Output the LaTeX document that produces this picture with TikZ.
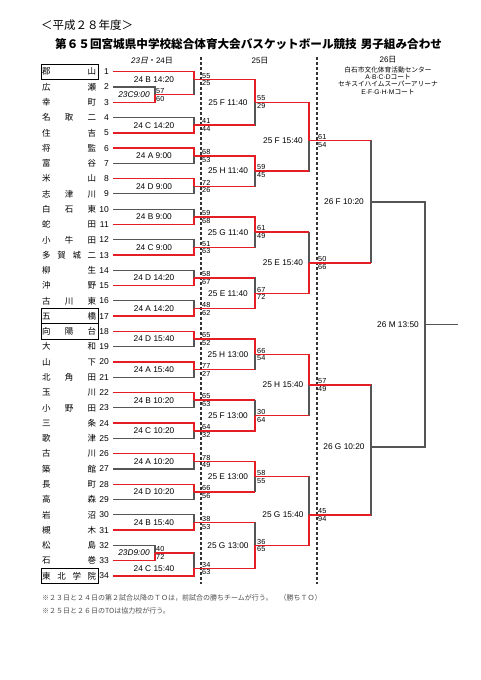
\documentclass[tikz,border=0pt]{standalone}
\usepackage{fontspec}
\setmainfont{Liberation Sans}
\newfontfamily\jp{Noto Sans CJK JP}
\newfontfamily\jpsl[FakeSlant=0.2]{Noto Sans CJK JP}
\definecolor{bred}{RGB}{228,30,36}
\definecolor{bgray}{RGB}{85,85,85}

\begin{document}
\begin{tikzpicture}[x=1pt,y=-1pt,
  win/.style={draw=bred,line width=1.5pt},
  lose/.style={draw=bgray,line width=1.1pt},
  tname/.style={anchor=west,inner sep=0pt,font=\jp\fontsize{8.5}{9}\selectfont},
  tnum/.style={anchor=east,inner sep=0pt,font=\fontsize{8.5}{9}\selectfont},
  gamelbl/.style={inner sep=0pt,font=\fontsize{8.3}{9}\selectfont},
  score/.style={anchor=west,inner sep=0pt,font=\fontsize{7.3}{8}\selectfont},
  shi/.style={score,yshift=3.8pt},
  slo/.style={score,yshift=-4pt},
  namebox/.style={draw=black,line width=0.8pt},
  daysep/.style={draw=black!80,line width=1.2pt,dash pattern=on 3pt off 2pt},
  hdr/.style={inner sep=0pt,font=\fontsize{8}{9}\selectfont},
  venue/.style={inner sep=0pt,font=\fontsize{6.7}{7}\selectfont}]
\useasboundingbox (0,0) rectangle (481,680);

% titles
\node[anchor=west,inner sep=0pt,font=\jp\fontsize{11.5}{12}\selectfont] (year) at (41,25) {＜平成２８年度＞};
\node[anchor=west,inner sep=0pt,font=\jp\bfseries\fontsize{11.6}{12}\selectfont] (title) at (55,44.5) {第６５回宮城県中学校総合体育大会バスケットボール競技\hspace{4pt}男子組み合わせ};

\node[hdr] (h24) at (152,60.5) {{\itshape 23}{\jpsl 日}{\jp ・}24{\jp 日}};
\node[hdr] (h25) at (260,60.5) {25{\jp 日}};
\node[hdr] (h26) at (388,60) {26{\jp 日}};
\node[venue] (v1) at (388,70) {\jp 白石市文化体育活動センター};
\node[venue] (v2) at (388,77.3) {A\textperiodcentered B\textperiodcentered C\textperiodcentered D{\jp コート}};
\node[venue] (v3) at (388,84.4) {\jp セキスイハイムスーパーアリーナ};
\node[venue] (v4) at (388,91.7) {E\textperiodcentered F\textperiodcentered G\textperiodcentered H\textperiodcentered M{\jp コート}};

\draw[daysep] (201,57) -- (201,584);
\draw[daysep] (317,57) -- (317,584);

% teams
\node[tname] (s1) at (42,71.7) {\makebox[54pt]{郡\hfill 山}}; \node[tnum] (n1) at (109,71.7) {1}; \coordinate (t1) at (113,71.7);
\node[tname] (s2) at (42,87.0) {\makebox[54pt]{広\hfill 瀬}}; \node[tnum] (n2) at (109,87.0) {2}; \coordinate (t2) at (113,87.0);
\node[tname] (s3) at (42,102.3) {\makebox[54pt]{幸\hfill 町}}; \node[tnum] (n3) at (109,102.3) {3}; \coordinate (t3) at (113,102.3);
\node[tname] (s4) at (42,117.5) {\makebox[54pt]{名\hfill 取\hfill 二}}; \node[tnum] (n4) at (109,117.5) {4}; \coordinate (t4) at (113,117.5);
\node[tname] (s5) at (42,132.8) {\makebox[54pt]{住\hfill 吉}}; \node[tnum] (n5) at (109,132.8) {5}; \coordinate (t5) at (113,132.8);
\node[tname] (s6) at (42,148.1) {\makebox[54pt]{将\hfill 監}}; \node[tnum] (n6) at (109,148.1) {6}; \coordinate (t6) at (113,148.1);
\node[tname] (s7) at (42,163.4) {\makebox[54pt]{富\hfill 谷}}; \node[tnum] (n7) at (109,163.4) {7}; \coordinate (t7) at (113,163.4);
\node[tname] (s8) at (42,178.7) {\makebox[54pt]{米\hfill 山}}; \node[tnum] (n8) at (109,178.7) {8}; \coordinate (t8) at (113,178.7);
\node[tname] (s9) at (42,193.9) {\makebox[54pt]{志\hfill 津\hfill 川}}; \node[tnum] (n9) at (109,193.9) {9}; \coordinate (t9) at (113,193.9);
\node[tname] (s10) at (42,209.2) {\makebox[54pt]{白\hfill 石\hfill 東}}; \node[tnum] (n10) at (109,209.2) {10}; \coordinate (t10) at (113,209.2);
\node[tname] (s11) at (42,224.5) {\makebox[54pt]{蛇\hfill 田}}; \node[tnum] (n11) at (109,224.5) {11}; \coordinate (t11) at (113,224.5);
\node[tname] (s12) at (42,239.8) {\makebox[54pt]{小\hfill 牛\hfill 田}}; \node[tnum] (n12) at (109,239.8) {12}; \coordinate (t12) at (113,239.8);
\node[tname] (s13) at (42,255.1) {\makebox[54pt]{多\hfill 賀\hfill 城\hfill 二}}; \node[tnum] (n13) at (109,255.1) {13}; \coordinate (t13) at (113,255.1);
\node[tname] (s14) at (42,270.3) {\makebox[54pt]{柳\hfill 生}}; \node[tnum] (n14) at (109,270.3) {14}; \coordinate (t14) at (113,270.3);
\node[tname] (s15) at (42,285.6) {\makebox[54pt]{沖\hfill 野}}; \node[tnum] (n15) at (109,285.6) {15}; \coordinate (t15) at (113,285.6);
\node[tname] (s16) at (42,300.9) {\makebox[54pt]{古\hfill 川\hfill 東}}; \node[tnum] (n16) at (109,300.9) {16}; \coordinate (t16) at (113,300.9);
\node[tname] (s17) at (42,316.2) {\makebox[54pt]{五\hfill 橋}}; \node[tnum] (n17) at (109,316.2) {17}; \coordinate (t17) at (113,316.2);
\node[tname] (s18) at (42,331.5) {\makebox[54pt]{向\hfill 陽\hfill 台}}; \node[tnum] (n18) at (109,331.5) {18}; \coordinate (t18) at (113,331.5);
\node[tname] (s19) at (42,346.7) {\makebox[54pt]{大\hfill 和}}; \node[tnum] (n19) at (109,346.7) {19}; \coordinate (t19) at (113,346.7);
\node[tname] (s20) at (42,362.0) {\makebox[54pt]{山\hfill 下}}; \node[tnum] (n20) at (109,362.0) {20}; \coordinate (t20) at (113,362.0);
\node[tname] (s21) at (42,377.3) {\makebox[54pt]{北\hfill 角\hfill 田}}; \node[tnum] (n21) at (109,377.3) {21}; \coordinate (t21) at (113,377.3);
\node[tname] (s22) at (42,392.6) {\makebox[54pt]{玉\hfill 川}}; \node[tnum] (n22) at (109,392.6) {22}; \coordinate (t22) at (113,392.6);
\node[tname] (s23) at (42,407.9) {\makebox[54pt]{小\hfill 野\hfill 田}}; \node[tnum] (n23) at (109,407.9) {23}; \coordinate (t23) at (113,407.9);
\node[tname] (s24) at (42,423.1) {\makebox[54pt]{三\hfill 条}}; \node[tnum] (n24) at (109,423.1) {24}; \coordinate (t24) at (113,423.1);
\node[tname] (s25) at (42,438.4) {\makebox[54pt]{歌\hfill 津}}; \node[tnum] (n25) at (109,438.4) {25}; \coordinate (t25) at (113,438.4);
\node[tname] (s26) at (42,453.7) {\makebox[54pt]{古\hfill 川}}; \node[tnum] (n26) at (109,453.7) {26}; \coordinate (t26) at (113,453.7);
\node[tname] (s27) at (42,469.0) {\makebox[54pt]{築\hfill 館}}; \node[tnum] (n27) at (109,469.0) {27}; \coordinate (t27) at (113,469.0);
\node[tname] (s28) at (42,484.3) {\makebox[54pt]{長\hfill 町}}; \node[tnum] (n28) at (109,484.3) {28}; \coordinate (t28) at (113,484.3);
\node[tname] (s29) at (42,499.5) {\makebox[54pt]{高\hfill 森}}; \node[tnum] (n29) at (109,499.5) {29}; \coordinate (t29) at (113,499.5);
\node[tname] (s30) at (42,514.8) {\makebox[54pt]{岩\hfill 沼}}; \node[tnum] (n30) at (109,514.8) {30}; \coordinate (t30) at (113,514.8);
\node[tname] (s31) at (42,530.1) {\makebox[54pt]{槻\hfill 木}}; \node[tnum] (n31) at (109,530.1) {31}; \coordinate (t31) at (113,530.1);
\node[tname] (s32) at (42,545.4) {\makebox[54pt]{松\hfill 島}}; \node[tnum] (n32) at (109,545.4) {32}; \coordinate (t32) at (113,545.4);
\node[tname] (s33) at (42,560.7) {\makebox[54pt]{石\hfill 巻}}; \node[tnum] (n33) at (109,560.7) {33}; \coordinate (t33) at (113,560.7);
\node[tname] (s34) at (42,575.9) {\makebox[54pt]{東\hfill 北\hfill 学\hfill 院}}; \node[tnum] (n34) at (109,575.9) {34}; \coordinate (t34) at (113,575.9);

\draw[namebox] (41,64.1) rectangle (98,79.4);
\draw[namebox] (41,308.6) rectangle (98,323.8);
\draw[namebox] (41,323.8) rectangle (98,339.1);
\draw[namebox] (41,568.3) rectangle (98,583.6);

% game points
\coordinate (q1) at (155,94.6);
\coordinate (q2) at (155,553.0);
\coordinate (a1) at (194,79.4);
\coordinate (a2) at (194,125.2);
\coordinate (a3) at (194,155.8);
\coordinate (a4) at (194,186.3);
\coordinate (a5) at (194,216.9);
\coordinate (a6) at (194,247.4);
\coordinate (a7) at (194,278.0);
\coordinate (a8) at (194,308.6);
\coordinate (a9) at (194,339.1);
\coordinate (a10) at (194,369.7);
\coordinate (a11) at (194,400.2);
\coordinate (a12) at (194,430.8);
\coordinate (a13) at (194,461.3);
\coordinate (a14) at (194,491.9);
\coordinate (a15) at (194,522.5);
\coordinate (a16) at (194,568.3);
\coordinate (b1) at (255,102.3);
\coordinate (b2) at (255,171.1);
\coordinate (b3) at (255,232.2);
\coordinate (b4) at (255,293.3);
\coordinate (b5) at (255,354.4);
\coordinate (b6) at (255,415.5);
\coordinate (b7) at (255,476.6);
\coordinate (b8) at (255,545.4);
\coordinate (c1) at (309,140.7);
\coordinate (c2) at (309,262.8);
\coordinate (c3) at (309,385.0);
\coordinate (c4) at (309,515.0);
\coordinate (d1) at (371,202.0);
\coordinate (d2) at (371,447.0);
\coordinate (e1) at (425,324.5);
\coordinate (fin) at (458,324.5);

% gray lines
\draw[lose] (t2) -| (q1);
\draw[lose] (t32) -| (q2);
\draw[lose] (q1) -| (a1);
\draw[lose] (t4) -| (a2);
\draw[lose] (t7) -| (a3);
\draw[lose] (t9) -| (a4);
\draw[lose] (t10) -| (a5);
\draw[lose] (t12) -| (a6);
\draw[lose] (t14) -| (a7);
\draw[lose] (t16) -| (a8);
\draw[lose] (t19) -| (a9);
\draw[lose] (t21) -| (a10);
\draw[lose] (t23) -| (a11);
\draw[lose] (t25) -| (a12);
\draw[lose] (t27) -| (a13);
\draw[lose] (t29) -| (a14);
\draw[lose] (t30) -| (a15);
\draw[lose] (q2) -| (a16);
\draw[lose] (a2) -| (b1);
\draw[lose] (a4) -| (b2);
\draw[lose] (a6) -| (b3);
\draw[lose] (a7) -| (b4);
\draw[lose] (a10) -| (b5);
\draw[lose] (a11) -| (b6);
\draw[lose] (a14) -| (b7);
\draw[lose] (a15) -| (b8);
\draw[lose] (b2) -| (c1);
\draw[lose] (b3) -| (c2);
\draw[lose] (b6) -| (c3);
\draw[lose] (b7) -| (c4);
\draw[lose] (c1) -| (d1);
\draw[lose] (c2) -| (d1);
\draw[lose] (c3) -| (d2);
\draw[lose] (c4) -| (d2);
\draw[lose] (d1) -| (e1);
\draw[lose] (d2) -| (e1);
\draw[lose] (e1) -- (fin);

% red lines
\draw[win] (t3) -| (q1);
\draw[win] (t33) -| (q2);
\draw[win] (t1) -| (a1);
\draw[win] (q1) -- (q1 -| a1);
\draw[win] (t5) -| (a2);
\draw[win] (t6) -| (a3);
\draw[win] (t8) -| (a4);
\draw[win] (t11) -| (a5);
\draw[win] (t13) -| (a6);
\draw[win] (t15) -| (a7);
\draw[win] (t17) -| (a8);
\draw[win] (t18) -| (a9);
\draw[win] (t20) -| (a10);
\draw[win] (t22) -| (a11);
\draw[win] (t24) -| (a12);
\draw[win] (t26) -| (a13);
\draw[win] (t28) -| (a14);
\draw[win] (t31) -| (a15);
\draw[win] (q2) -- (q2 -| a16);
\draw[win] (t34) -| (a16);

\draw[win] (a1) -| (b1);
\draw[win] (a2) -- (a2 -| b1);
\draw[win] (a3) -| (b2);
\draw[win] (a4) -- (a4 -| b2);
\draw[win] (a5) -| (b3);
\draw[win] (a6) -- (a6 -| b3);
\draw[win] (a7) -- (a7 -| b4);
\draw[win] (a8) -| (b4);
\draw[win] (a9) -| (b5);
\draw[win] (a10) -- (a10 -| b5);
\draw[win] (a11) -- (a11 -| b6);
\draw[win] (a12) -| (b6);
\draw[win] (a13) -| (b7);
\draw[win] (a14) -- (a14 -| b7);
\draw[win] (a15) -- (a15 -| b8);
\draw[win] (a16) -| (b8);

\draw[win] (b1) -| (c1);
\draw[win] (b2) -- (b2 -| c1);
\draw[win] (b3) -- (b3 -| c2);
\draw[win] (b4) -| (c2);
\draw[win] (b5) -| (c3);
\draw[win] (b6) -- (b6 -| c3);
\draw[win] (b7) -- (b7 -| c4);
\draw[win] (b8) -| (c4);

\draw[win] (c1) -- (c1 -| d1);
\draw[win] (c2) -- (c2 -| d1);
\draw[win] (c3) -- (c3 -| d2);
\draw[win] (c4) -- (c4 -| d2);

% game labels
\node[gamelbl,font=\itshape\fontsize{8.3}{9}\selectfont] (lq1) at ([xshift=-21pt]q1) {23C9:00};
\node[gamelbl,font=\itshape\fontsize{8.3}{9}\selectfont] (lq2) at ([xshift=-21pt]q2) {23D9:00};
\node[gamelbl] (la1) at ([xshift=-40pt]a1) {24 B 14:20};
\node[gamelbl] (la2) at ([xshift=-40pt]a2) {24 C 14:20};
\node[gamelbl] (la3) at ([xshift=-40pt]a3) {24 A 9:00};
\node[gamelbl] (la4) at ([xshift=-40pt]a4) {24 D 9:00};
\node[gamelbl] (la5) at ([xshift=-40pt]a5) {24 B 9:00};
\node[gamelbl] (la6) at ([xshift=-40pt]a6) {24 C 9:00};
\node[gamelbl] (la7) at ([xshift=-40pt]a7) {24 D 14:20};
\node[gamelbl] (la8) at ([xshift=-40pt]a8) {24 A 14:20};
\node[gamelbl] (la9) at ([xshift=-40pt]a9) {24 D 15:40};
\node[gamelbl] (la10) at ([xshift=-40pt]a10) {24 A 15:40};
\node[gamelbl] (la11) at ([xshift=-40pt]a11) {24 B 10:20};
\node[gamelbl] (la12) at ([xshift=-40pt]a12) {24 C 10:20};
\node[gamelbl] (la13) at ([xshift=-40pt]a13) {24 A 10:20};
\node[gamelbl] (la14) at ([xshift=-40pt]a14) {24 D 10:20};
\node[gamelbl] (la15) at ([xshift=-40pt]a15) {24 B 15:40};
\node[gamelbl] (la16) at ([xshift=-40pt]a16) {24 C 15:40};
\node[gamelbl] (lb1) at ([xshift=-27pt]b1) {25 F 11:40};
\node[gamelbl] (lb2) at ([xshift=-27pt]b2) {25 H 11:40};
\node[gamelbl] (lb3) at ([xshift=-27pt]b3) {25 G 11:40};
\node[gamelbl] (lb4) at ([xshift=-27pt]b4) {25 E 11:40};
\node[gamelbl] (lb5) at ([xshift=-27pt]b5) {25 H 13:00};
\node[gamelbl] (lb6) at ([xshift=-27pt]b6) {25 F 13:00};
\node[gamelbl] (lb7) at ([xshift=-27pt]b7) {25 E 13:00};
\node[gamelbl] (lb8) at ([xshift=-27pt]b8) {25 G 13:00};
\node[gamelbl] (lc1) at ([xshift=-26pt]c1) {25 F 15:40};
\node[gamelbl] (lc2) at ([xshift=-26pt]c2) {25 E 15:40};
\node[gamelbl] (lc3) at ([xshift=-26pt]c3) {25 H 15:40};
\node[gamelbl] (lc4) at ([xshift=-26pt]c4) {25 G 15:40};
\node[gamelbl] (ld1) at ([xshift=-27pt]d1) {26 F 10:20};
\node[gamelbl] (ld2) at ([xshift=-27pt]d2) {26 G 10:20};
\node[gamelbl] (le1) at ([xshift=-27pt]e1) {26 M 13:50};

% scores
\node[shi,xshift=1pt] (q1up) at (q1) {57}; \node[slo,xshift=1pt] (q1dn) at (q1) {60};
\node[shi,xshift=1pt] (q2up) at (q2) {40}; \node[slo,xshift=1pt] (q2dn) at (q2) {72};
\node[shi,xshift=8pt] (a1up) at (a1) {55}; \node[slo,xshift=8pt] (a1dn) at (a1) {25};
\node[shi,xshift=8pt] (a2up) at (a2) {41}; \node[slo,xshift=8pt] (a2dn) at (a2) {44};
\node[shi,xshift=8pt] (a3up) at (a3) {68}; \node[slo,xshift=8pt] (a3dn) at (a3) {53};
\node[shi,xshift=8pt] (a4up) at (a4) {72}; \node[slo,xshift=8pt] (a4dn) at (a4) {26};
\node[shi,xshift=8pt] (a5up) at (a5) {59}; \node[slo,xshift=8pt] (a5dn) at (a5) {68};
\node[shi,xshift=8pt] (a6up) at (a6) {51}; \node[slo,xshift=8pt] (a6dn) at (a6) {63};
\node[shi,xshift=8pt] (a7up) at (a7) {58}; \node[slo,xshift=8pt] (a7dn) at (a7) {67};
\node[shi,xshift=8pt] (a8up) at (a8) {48}; \node[slo,xshift=8pt] (a8dn) at (a8) {62};
\node[shi,xshift=8pt] (a9up) at (a9) {65}; \node[slo,xshift=8pt] (a9dn) at (a9) {52};
\node[shi,xshift=8pt] (a10up) at (a10) {77}; \node[slo,xshift=8pt] (a10dn) at (a10) {27};
\node[shi,xshift=8pt] (a11up) at (a11) {65}; \node[slo,xshift=8pt] (a11dn) at (a11) {63};
\node[shi,xshift=8pt] (a12up) at (a12) {64}; \node[slo,xshift=8pt] (a12dn) at (a12) {32};
\node[shi,xshift=8pt] (a13up) at (a13) {78}; \node[slo,xshift=8pt] (a13dn) at (a13) {49};
\node[shi,xshift=8pt] (a14up) at (a14) {66}; \node[slo,xshift=8pt] (a14dn) at (a14) {56};
\node[shi,xshift=8pt] (a15up) at (a15) {38}; \node[slo,xshift=8pt] (a15dn) at (a15) {53};
\node[shi,xshift=8pt] (a16up) at (a16) {34}; \node[slo,xshift=8pt] (a16dn) at (a16) {63};
\node[shi,xshift=2pt] (b1up) at (b1) {55}; \node[slo,xshift=2pt] (b1dn) at (b1) {29};
\node[shi,xshift=2pt] (b2up) at (b2) {59}; \node[slo,xshift=2pt] (b2dn) at (b2) {45};
\node[shi,xshift=2pt] (b3up) at (b3) {61}; \node[slo,xshift=2pt] (b3dn) at (b3) {49};
\node[shi,xshift=2pt] (b4up) at (b4) {67}; \node[slo,xshift=2pt] (b4dn) at (b4) {72};
\node[shi,xshift=2pt] (b5up) at (b5) {66}; \node[slo,xshift=2pt] (b5dn) at (b5) {54};
\node[shi,xshift=2pt] (b6up) at (b6) {30}; \node[slo,xshift=2pt] (b6dn) at (b6) {64};
\node[shi,xshift=2pt] (b7up) at (b7) {58}; \node[slo,xshift=2pt] (b7dn) at (b7) {55};
\node[shi,xshift=2pt] (b8up) at (b8) {36}; \node[slo,xshift=2pt] (b8dn) at (b8) {65};
\node[shi,xshift=9pt] (c1up) at (c1) {61}; \node[slo,xshift=9pt] (c1dn) at (c1) {54};
\node[shi,xshift=9pt] (c2up) at (c2) {50}; \node[slo,xshift=9pt] (c2dn) at (c2) {66};
\node[shi,xshift=9pt] (c3up) at (c3) {57}; \node[slo,xshift=9pt] (c3dn) at (c3) {49};
\node[shi,xshift=9pt] (c4up) at (c4) {45}; \node[slo,xshift=9pt] (c4dn) at (c4) {94};

% notes
\node[anchor=west,inner sep=0pt,text=black!70,font=\jp\fontsize{7}{8}\selectfont] (note1) at (42,598) {※２３日と２４日の第２試合以降のＴＯは，前試合の勝ちチームが行う。　（勝ちＴＯ）};
\node[anchor=west,inner sep=0pt,text=black!70,font=\jp\fontsize{7}{8}\selectfont] (note2) at (42,610.5) {※２５日と２６日のTOは協力校が行う。};
\end{tikzpicture}
\end{document}
